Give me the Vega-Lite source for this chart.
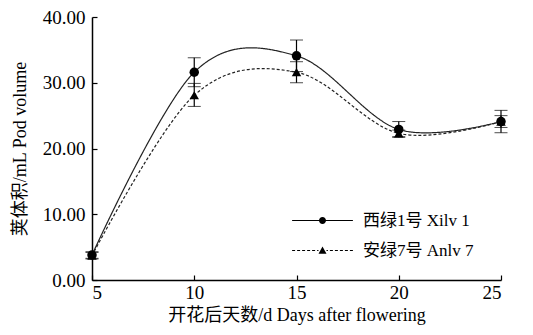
{
  "$schema": "https://vega.github.io/schema/vega-lite/v6.json",
  "width": 409,
  "height": 263,
  "autosize": "none",
  "padding": {"left": 92, "top": 17, "right": 32, "bottom": 55},
  "background": "white",
  "config": {
    "view": {"stroke": null},
    "font": "Liberation Serif, Noto Sans CJK SC",
    "axis": {
      "grid": false,
      "domainColor": "black",
      "domainWidth": 1.5,
      "tickColor": "black",
      "tickWidth": 1.2,
      "tickSize": -5,
      "labelFont": "Liberation Serif",
      "labelFontSize": 19,
      "labelColor": "black",
      "titleFont": "Liberation Serif, Noto Sans CJK SC",
      "titleFontSize": 18,
      "titleFontWeight": "normal",
      "titleColor": "black"
    },
    "legend": {
      "title": null, "orient": "none", "legendX": 222, "legendY": 195,
      "padding": 0, "symbolSize": 256, "labelOffset": 32, "rowPadding": 12,
      "labelFont": "Liberation Serif, Noto Sans CJK SC", "labelFontSize": 17, "labelColor": "black", "labelLimit": 300,
      "symbolStrokeWidth": 1, "symbolStrokeColor": "black", "symbolFillColor": "black", "symbolOpacity": 1
    }
  },
  "data": {
    "values": [
      {"series": "西绿1号 Xilv 1", "day": 5, "vol": 3.8, "lo": 3.3, "hi": 4.3},
      {"series": "西绿1号 Xilv 1", "day": 10, "vol": 31.6, "lo": 29.4, "hi": 33.8},
      {"series": "西绿1号 Xilv 1", "day": 15, "vol": 34.1, "lo": 31.7, "hi": 36.5},
      {"series": "西绿1号 Xilv 1", "day": 20, "vol": 22.9, "lo": 21.7, "hi": 24.1},
      {"series": "西绿1号 Xilv 1", "day": 25, "vol": 24.1, "lo": 22.4, "hi": 25.8},
      {"series": "安绿7号 Anlv 7", "day": 5, "vol": 3.7, "lo": 3.2, "hi": 4.2},
      {"series": "安绿7号 Anlv 7", "day": 10, "vol": 28.1, "lo": 26.4, "hi": 29.9},
      {"series": "安绿7号 Anlv 7", "day": 15, "vol": 31.6, "lo": 30.0, "hi": 33.2},
      {"series": "安绿7号 Anlv 7", "day": 20, "vol": 22.3, "lo": 21.8, "hi": 22.8},
      {"series": "安绿7号 Anlv 7", "day": 25, "vol": 24.1, "lo": 23.2, "hi": 25.0}
    ]
  },
  "encoding": {
    "x": {"field": "day", "type": "quantitative", "scale": {"domain": [5, 25]}, "axis": {"values": [5, 10, 15, 20, 25], "title": "开花后天数/d Days after flowering", "labelPadding": 8, "titlePadding": 4}}
  },
  "layer": [
    {
      "mark": {"type": "errorbar", "ticks": {"size": 13, "color": "black"}, "rule": {"color": "black", "strokeWidth": 1.2}},
      "encoding": {
        "y": {"field": "lo", "type": "quantitative", "scale": {"domain": [0, 40]}, "axis": {"values": [0, 10, 20, 30, 40], "format": ".2f", "title": "荚体积/mL Pod volume", "labelPadding": 12, "titlePadding": 13}},
        "y2": {"field": "hi"}
      }
    },
    {
      "mark": {"type": "line", "interpolate": "cardinal", "color": "#222", "strokeWidth": 1.2},
      "encoding": {
        "y": {"field": "vol", "type": "quantitative"},
        "strokeDash": {
          "field": "series", "type": "nominal",
          "scale": {"domain": ["西绿1号 Xilv 1", "安绿7号 Anlv 7"], "range": [[1, 0], [3, 2]]}
        }
      }
    },
    {
      "mark": {"type": "point", "filled": true, "color": "black", "opacity": 1, "size": 90},
      "encoding": {
        "y": {"field": "vol", "type": "quantitative"},
        "shape": {"condition": {"test": "datum.series === '西绿1号 Xilv 1'", "value": "circle"}, "value": "triangle-up"}
      }
    },
    {
      "transform": [{"filter": "datum.day < 0"}],
      "mark": {"type": "point", "filled": false, "color": "black", "fill": "black", "stroke": "black", "strokeWidth": 1, "opacity": 1},
      "encoding": {
        "y": {"field": "vol", "type": "quantitative"},
        "shape": {
          "field": "series", "type": "nominal",
          "scale": {"domain": ["西绿1号 Xilv 1", "安绿7号 Anlv 7"], "range": [
            "M-3.8,-0.06H-0.4V0.06H-3.8ZM0.4,-0.06H3.8V0.06H0.4ZM0.44,0A0.44,0.44,0,1,1,-0.44,0A0.44,0.44,0,1,1,0.44,0Z",
            "M-3.8,-0.06H-3.425V0.06H-3.8ZM-3.175,-0.06H-2.8V0.06H-3.175ZM-2.55,-0.06H-2.175V0.06H-2.55ZM-1.925,-0.06H-1.55V0.06H-1.925ZM-1.3,-0.06H-0.925V0.06H-1.3ZM-0.675,-0.06H-0.5V0.06H-0.675ZM0.5,-0.06H0.675V0.06H0.5ZM0.925,-0.06H1.3V0.06H0.925ZM1.55,-0.06H1.925V0.06H1.55ZM2.175,-0.06H2.55V0.06H2.175ZM2.8,-0.06H3.175V0.06H2.8ZM3.425,-0.06H3.8V0.06H3.425ZM0,-0.5L0.5,0.4L-0.5,0.4Z"
          ]}
        }
      }
    }
  ]
}
